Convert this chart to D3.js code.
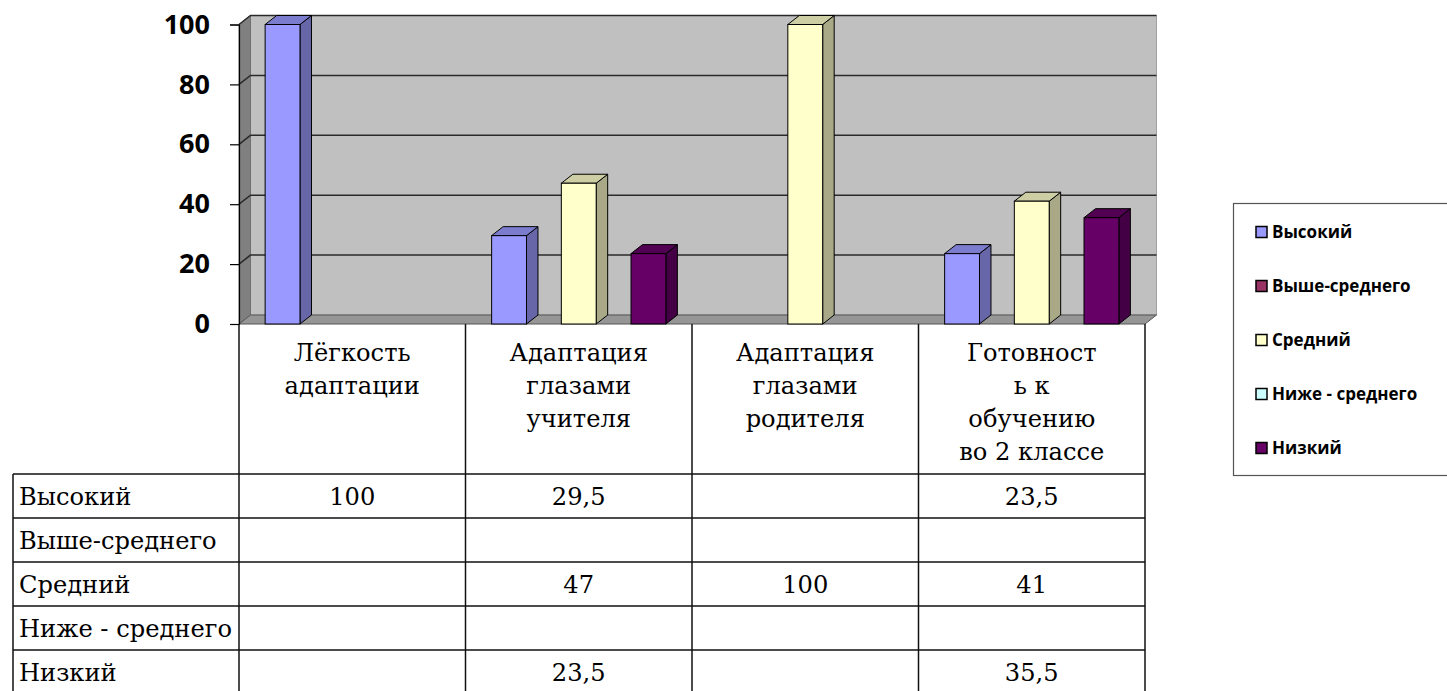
<!DOCTYPE html>
<html>
<head>
<meta charset="utf-8">
<script src="https://cdn.jsdelivr.net/npm/d3@7"></script>
<style>
  html, body { margin: 0; padding: 0; background: #fff; }
  svg { display: block; }
</style>
</head>
<body>
<svg id="chart" width="1447" height="691"></svg>
<script>
// ---- data ----
const categories = [
  "Лёгкость\nадаптации",
  "Адаптация\nглазами\nучителя",
  "Адаптация\nглазами\nродителя",
  "Готовност\nь к\nобучению\nво 2 классе"
];
const seriesNames = ["Высокий", "Выше-среднего", "Средний", "Ниже - среднего", "Низкий"];
const vysokiy       = [100, 29.5, null, 23.5];
const vysheSrednego = [null, null, null, null];
const sredniy       = [null, 47, 100, 41];
const nizheSrednego = [null, null, null, null];
const nizkiy        = [null, 23.5, null, 35.5];
const seriesValues = [vysokiy, vysheSrednego, sredniy, nizheSrednego, nizkiy];
const yTicks = [0, 20, 40, 60, 80, 100];
const colors = ["#9999FF", "#993366", "#FFFFCC", "#CCFFFF", "#660066"];

// ---- layout ----
const svg = d3.select("#chart");
const plotLeft = 239, plotRight = 1145, y0px = 324, y100px = 24.5;
const dX = 11.5, dY = -9;

const x0 = d3.scaleBand().domain(categories).range([plotLeft, plotRight]).padding(0);
const x1 = d3.scaleBand().domain(seriesNames).range([0, x0.bandwidth()]).paddingInner(0).paddingOuter(0.75);
const y = d3.scaleLinear().domain([0, 100]).range([y0px, y100px]);

const g = svg.append("g");

// walls
g.append("polygon")
  .attr("points", [[plotLeft + dX, y(100) + dY], [plotRight + dX, y(100) + dY], [plotRight + dX, y(0) + dY], [plotLeft + dX, y(0) + dY]].join(" "))
  .attr("fill", "#C0C0C0").attr("stroke", "#a0a0a0").attr("stroke-width", 1);
g.append("polygon")
  .attr("points", [[plotLeft, y(100)], [plotLeft + dX, y(100) + dY], [plotLeft + dX, y(0) + dY], [plotLeft, y(0)]].join(" "))
  .attr("fill", "#808080").attr("stroke", "#707070").attr("stroke-width", 1);
g.append("polygon")
  .attr("points", [[plotLeft, y(0)], [plotLeft + dX, y(0) + dY], [plotRight + dX, y(0) + dY], [plotRight, y(0)]].join(" "))
  .attr("fill", "#969696").attr("stroke", "#555").attr("stroke-width", 1);

// gridlines
yTicks.filter(t => t > 0).forEach(t => {
  g.append("polyline")
    .attr("points", [[plotLeft, y(t)], [plotLeft + dX, y(t) + dY], [plotRight + dX, y(t) + dY]].join(" "))
    .attr("fill", "none").attr("stroke", "#2a2a2a").attr("stroke-width", 1.5);
});

// bars
categories.forEach((cat, ci) => {
  seriesNames.forEach((s, si) => {
    const v = seriesValues[si][ci];
    if (v === null || v === undefined) return;
    const xl = x0(cat) + x1(s), xr = xl + x1.bandwidth();
    const yt = y(v), yb = y(0);
    const c = d3.color(colors[si]);
    const bg = g.append("g");
    bg.append("polygon")
      .attr("points", [[xr, yt], [xr + dX, yt + dY], [xr + dX, yb + dY], [xr, yb]].join(" "))
      .attr("fill", c.darker(1.15)).attr("stroke", "#000").attr("stroke-width", 1).attr("stroke-linejoin", "round");
    bg.append("polygon")
      .attr("points", [[xl, yt], [xl + dX, yt + dY], [xr + dX, yt + dY], [xr, yt]].join(" "))
      .attr("fill", c.darker(0.6)).attr("stroke", "#000").attr("stroke-width", 1).attr("stroke-linejoin", "round");
    bg.append("rect")
      .attr("x", xl).attr("y", yt).attr("width", xr - xl).attr("height", yb - yt)
      .attr("fill", c).attr("stroke", "#000").attr("stroke-width", 1);
  });
});

// y axis
const yAxis = d3.axisLeft(y).tickValues(yTicks).tickSize(9).tickPadding(20).tickFormat(d3.format("d"));
const ax = svg.append("g").attr("transform", `translate(${plotLeft},0)`).call(yAxis);
ax.select(".domain").attr("stroke", "#000").attr("stroke-width", 1.2);
ax.selectAll(".tick line").attr("stroke", "#000").attr("stroke-width", 1.2);
ax.selectAll(".tick text")
  .attr("fill", "#000")
  .style("font-family", "'Open Sans', 'Liberation Sans', sans-serif")
  .style("font-weight", "bold")
  .style("font-size", "27px");

// ---- data table ----
const tableLeft = 13;
const rowTop = 474, rowH = 44;
const tableBottom = 691 + 5;
const tg = svg.append("g");
const lineColor = "#111";
const colEdges = categories.map(c => x0(c)).concat([plotRight]);
colEdges.forEach(xv => {
  tg.append("line").attr("x1", xv).attr("x2", xv).attr("y1", y(0)).attr("y2", tableBottom)
    .attr("stroke", lineColor).attr("stroke-width", 1.5);
});
tg.append("line").attr("x1", tableLeft).attr("x2", tableLeft).attr("y1", rowTop).attr("y2", tableBottom)
  .attr("stroke", lineColor).attr("stroke-width", 1.5);
d3.range(seriesNames.length).forEach(i => {
  tg.append("line").attr("x1", tableLeft).attr("x2", plotRight)
    .attr("y1", rowTop + i * rowH).attr("y2", rowTop + i * rowH)
    .attr("stroke", lineColor).attr("stroke-width", 1.5);
});

// serif text: condensed horizontally to match the Times-like proportions
const serif = "'DejaVu Serif', serif";
const serifSize = 24.5;
const probe = svg.append("text").style("font-family", serif).style("font-size", serifSize + "px")
  .text("Ниже - среднего");
const probeLen = probe.node().getComputedTextLength();
probe.remove();
const sx = 213 / probeLen;

function serifText(parent, x, yb, anchor, lines, lineH) {
  const gg = parent.append("g").attr("transform", `translate(${x},${yb}) scale(${sx},1)`);
  const t = gg.append("text").attr("text-anchor", anchor)
    .style("font-family", serif).style("font-size", serifSize + "px").attr("fill", "#000");
  lines.forEach((ln, li) => {
    t.append("tspan").attr("x", 0).attr("y", li * lineH).text(ln);
  });
}

categories.forEach(cat => {
  serifText(tg, x0(cat) + x0.bandwidth() / 2, 361, "middle", cat.split("\n"), 33);
});
const fmt = v => (v === null ? "" : String(v).replace(".", ","));
seriesNames.forEach((s, si) => {
  const by = rowTop + si * rowH + 31;
  serifText(tg, 19, by, "start", [s], 0);
  categories.forEach((cat, ci) => {
    const v = seriesValues[si][ci];
    if (v === null) return;
    serifText(tg, x0(cat) + x0.bandwidth() / 2, by, "middle", [fmt(v)], 0);
  });
});

// ---- legend ----
const lg = svg.append("g");
lg.append("rect").attr("x", 1233.5).attr("y", 203.5).attr("width", 220).attr("height", 272)
  .attr("fill", "#fff").attr("stroke", "#555").attr("stroke-width", 1.2);
seriesNames.forEach((n, i) => {
  const cy = 232 + i * 54;
  lg.append("rect").attr("x", 1256).attr("y", cy - 5.5).attr("width", 11).attr("height", 11)
    .attr("fill", colors[i]).attr("stroke", "#000").attr("stroke-width", 1.5);
  lg.append("text").attr("x", 1272).attr("y", cy).attr("dy", "0.36em")
    .style("font-family", "'Open Sans', 'Liberation Sans', sans-serif")
    .style("font-weight", "bold").style("font-size", "17px").attr("fill", "#000").text(n);
});
</script>
</body>
</html>
